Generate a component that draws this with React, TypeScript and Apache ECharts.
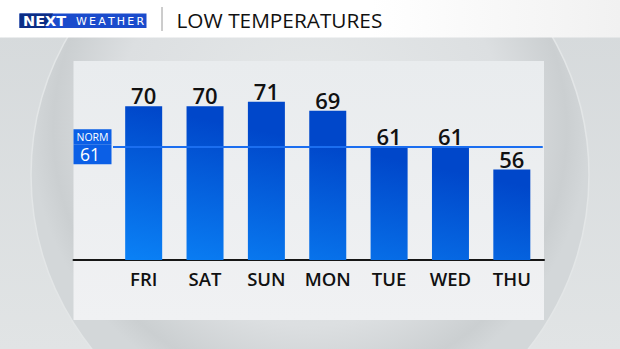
import React, { useEffect, useRef } from "react";
import * as echarts from "echarts";

const days = ["FRI", "SAT", "SUN", "MON", "TUE", "WED", "THU"];
const lows = [70, 70, 71, 69, 61, 61, 56];
const normal = 61;
const normLabel = "NORM";
const titleText = "LOW TEMPERATURES";
const yMin = 36;
const yMax = 80;

const FONT = "'Open Sans', 'Noto Sans', sans-serif";
const NORM_BLUE = "#0b5fe6";

export default function App() {
  const ref = useRef<HTMLDivElement>(null);
  useEffect(() => {
    const chart = echarts.init(ref.current!, undefined, { renderer: "svg" });
    const barColor = new echarts.graphic.LinearGradient(
      143, 106, 112, 254,
      [
        { offset: 0, color: "#0047ca" },
        { offset: 1, color: "#0a80f5" },
      ],
      true
    );
    const normBase = {
      show: true,
      position: "start",
      distance: 20.5,
      align: "center",
      verticalAlign: "middle",
      backgroundColor: NORM_BLUE,
      width: 38,
      color: "#ffffff",
      fontFamily: FONT,
      fontWeight: 500,
    };
    chart.setOption({
      animation: false,
      backgroundColor: "#dcdfe0",
      graphic: [
        {
          type: "rect",
          shape: { x: 0, y: 0, width: 620, height: 349 },
          style: {
            fill: new echarts.graphic.LinearGradient(0, 0, 0, 1, [
              { offset: 0, color: "#d5d9db" },
              { offset: 1, color: "#e1e4e5" },
            ]),
          },
          silent: true,
        },
        {
          type: "circle",
          shape: { cx: 310, cy: 175, r: 279 },
          style: {
            fill: new echarts.graphic.RadialGradient(0.5, 0.42, 0.5, [
              { offset: 0, color: "#e6e9ea" },
              { offset: 0.7, color: "#dcdfe1" },
              { offset: 0.92, color: "#cbcfd1" },
              { offset: 1, color: "#d3d7d9" },
            ]),
            stroke: "#e3e6e7",
            lineWidth: 1.5,
          },
          silent: true,
        },
        {
          type: "rect",
          shape: { x: 0, y: 0, width: 620, height: 37.5 },
          style: {
            fill: new echarts.graphic.LinearGradient(0, 0, 1, 0, [
              { offset: 0, color: "#ffffff" },
              { offset: 0.6, color: "#ffffff" },
              { offset: 1, color: "#f1f1f1" },
            ]),
          },
          silent: true,
        },
        {
          type: "rect",
          shape: { x: 73.5, y: 61, width: 470.5, height: 259 },
          style: {
            fill: new echarts.graphic.LinearGradient(0, 0, 0, 1, [
              { offset: 0, color: "#e9ecee" },
              { offset: 1, color: "#f0f1f3" },
            ]),
          },
          silent: true,
        },
        {
          type: "rect",
          shape: { x: 19.5, y: 13.5, width: 127, height: 14.5 },
          style: { fill: "#1a4bcc" },
          silent: true,
        },
        {
          type: "polygon",
          shape: { points: [[19.5, 13.5], [53, 13.5], [45, 28], [19.5, 28]] },
          style: { fill: "#0c2d85" },
          silent: true,
        },
        {
          type: "text",
          x: 23,
          y: 21,
          style: {
            text: "NEXT",
            fill: "#ffffff",
            font: "bold 14.5px 'DejaVu Sans', sans-serif",
            textVerticalAlign: "middle",
          },
          silent: true,
        },
        {
          type: "text",
          x: 76,
          y: 21.5,
          style: {
            text: "W\u2009E\u2009A\u2009T\u2009H\u2009E\u2009R",
            fill: "#ffffff",
            font: "11px 'DejaVu Sans', sans-serif",
            textVerticalAlign: "middle",
          },
          silent: true,
        },
        {
          type: "line",
          shape: { x1: 162, y1: 7, x2: 162, y2: 31 },
          style: { stroke: "#9a9a9a", lineWidth: 1 },
          silent: true,
        },
        {
          type: "text",
          x: 176.5,
          y: 19.5,
          style: {
            text: titleText,
            fill: "#111111",
            font: "20.8px " + FONT,
            textVerticalAlign: "middle",
          },
          silent: true,
        },
      ],
      grid: [
        { left: 113, width: 429.5, top: 61, height: 199 },
        { left: 73.5, width: 470.5, top: 61, height: 199 },
      ],
      xAxis: [
        {
          type: "category",
          gridIndex: 0,
          data: days,
          axisLine: { show: false },
          axisTick: { show: false },
          axisLabel: {
            interval: 0,
            color: "#111111",
            fontSize: 18.5,
            fontWeight: 600,
            fontFamily: FONT,
            margin: 9,
          },
        },
        {
          type: "value",
          gridIndex: 1,
          min: 0,
          max: 1,
          axisLine: { show: true, lineStyle: { color: "#161616", width: 2 } },
          axisTick: { show: false },
          axisLabel: { show: false },
          splitLine: { show: false },
        },
      ],
      yAxis: [
        { type: "value", gridIndex: 0, min: yMin, max: yMax, show: false },
        { type: "value", gridIndex: 1, min: yMin, max: yMax, show: false },
      ],
      series: [
        {
          type: "line",
          xAxisIndex: 0,
          yAxisIndex: 0,
          data: [],
          z: 1,
          markLine: {
            silent: true,
            symbol: ["none", "none"],
            lineStyle: { color: "#1b6ef0", width: 2, type: "solid" },
            data: [
              {
                yAxis: normal,
                label: {
                  ...normBase,
                  formatter: normLabel,
                  fontSize: 10.5,
                  lineHeight: 13,
                  padding: [1, 0, 1, 0],
                  offset: [0, -10.2],
                },
              },
              {
                yAxis: normal,
                label: {
                  ...normBase,
                  formatter: String(normal),
                  fontSize: 17.5,
                  lineHeight: 20,
                  padding: [0, 5, 0, 0],
                  width: 33,
                  offset: [0, 7.3],
                },
              },
            ],
          },
        },
        {
          type: "bar",
          xAxisIndex: 0,
          yAxisIndex: 0,
          data: lows,
          barWidth: 37,
          z: 3,
          itemStyle: { color: barColor },
          label: {
            show: true,
            position: "top",
            distance: 0,
            color: "#111111",
            fontSize: 22,
            fontWeight: 600,
            fontFamily: FONT,
          },
        },
        {
          type: "line",
          xAxisIndex: 1,
          yAxisIndex: 1,
          data: [],
        },
      ],
    });
    return () => chart.dispose();
  }, []);
  return (
    <div
      ref={ref}
      style={{ position: "fixed", left: 0, top: 0, width: 620, height: 349 }}
    />
  );
}
